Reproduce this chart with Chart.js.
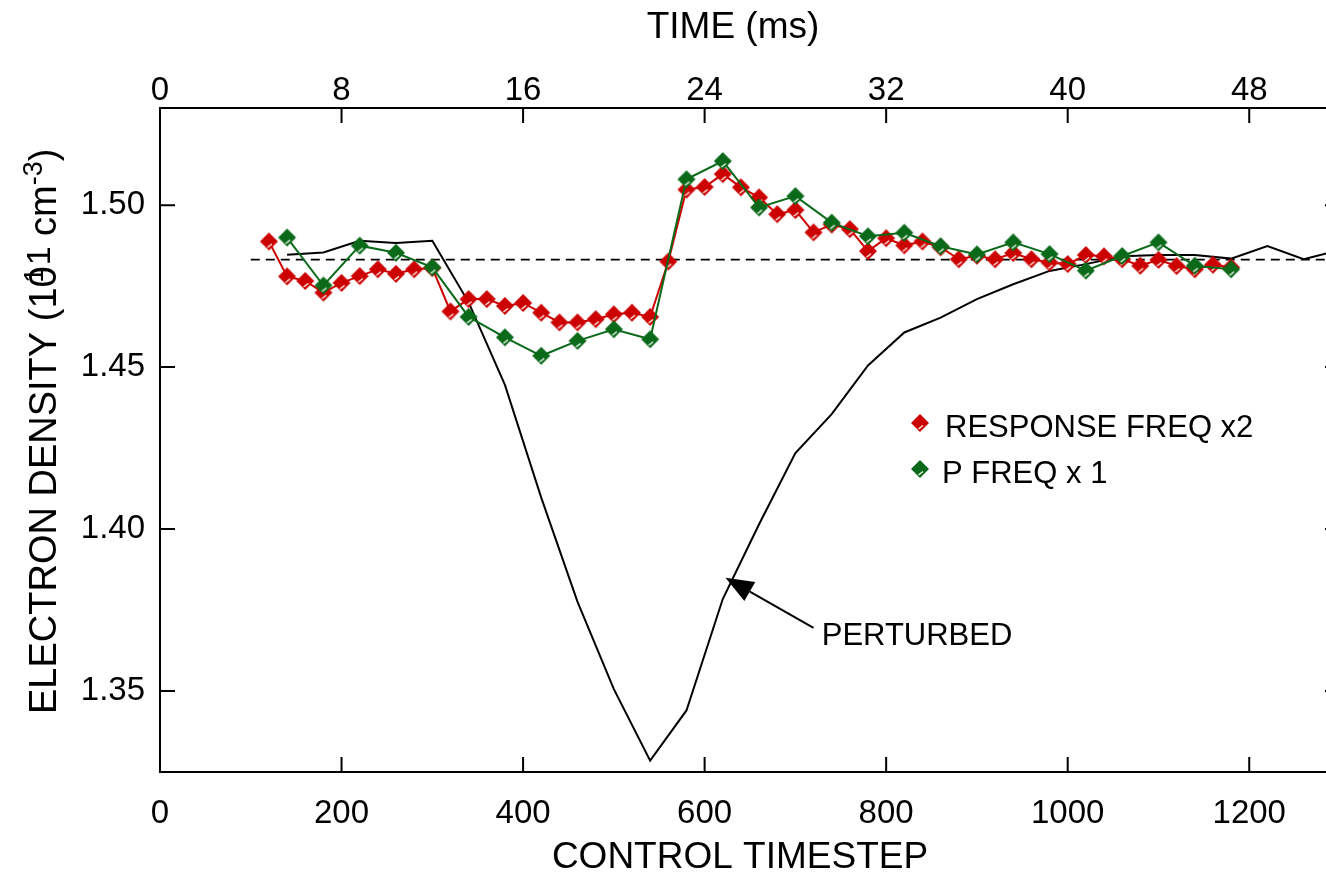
<!DOCTYPE html>
<html>
<head>
<meta charset="utf-8">
<script src="https://cdn.jsdelivr.net/npm/chart.js@4"></script>
<style>
html,body{margin:0;padding:0;background:#fff;overflow:hidden;}
#wrap{width:1326px;height:880px;overflow:hidden;position:relative;background:#fff;}
canvas{display:block;}
</style>
</head>
<body>
<div id="wrap"><canvas id="c" width="1360" height="880"></canvas></div>
<script>
// ---------------- data ----------------
const responseSteps = [120,140,160,180,200,220,240,260,280,300,320,340,360,380,400,420,440,460,480,500,520,540,560,580,600,620,640,660,680,700,720,740,760,780,800,820,840,860,880,900,920,940,960,980,1000,1020,1040,1060,1080,1100,1120,1140,1160,1180];
const responseValues = [1.4888,1.4780,1.4766,1.4730,1.4760,1.4781,1.4802,1.4788,1.4802,1.4806,1.4672,1.4710,1.4710,1.4689,1.4698,1.4668,1.4638,1.4638,1.4648,1.4663,1.4668,1.4655,1.4826,1.5048,1.5056,1.5096,1.5055,1.5024,1.4972,1.4985,1.4916,1.4940,1.4926,1.4858,1.4898,1.4876,1.4888,1.4870,1.4833,1.4844,1.4833,1.4852,1.4833,1.4823,1.4818,1.4846,1.4842,1.4833,1.4813,1.4831,1.4812,1.4802,1.4816,1.4808];

const pSteps = [140,180,220,260,300,340,380,420,460,500,540,580,620,660,700,740,780,820,860,900,940,980,1020,1060,1100,1140,1180];
const pValues = [1.4900,1.4752,1.4875,1.4853,1.4808,1.4655,1.4592,1.4535,1.4581,1.4617,1.4586,1.5080,1.5136,1.4993,1.5028,1.4946,1.4904,1.4915,1.4873,1.4848,1.4885,1.4849,1.4798,1.4843,1.4885,1.4813,1.4802];

const perturbedSteps = [140,180,220,260,300,340,380,420,460,500,540,580,620,660,700,740,780,820,860,900,940,980,1020,1060,1100,1140,1180,1220,1260,1300];
const perturbedValues = [1.4847,1.4854,1.4890,1.4883,1.4890,1.4700,1.4445,1.4097,1.3775,1.3506,1.3285,1.3440,1.3784,1.4015,1.4235,1.4355,1.4505,1.4607,1.4653,1.4710,1.4756,1.4797,1.4818,1.4842,1.4846,1.4846,1.4835,1.4874,1.4833,1.4862];

const referenceSteps = [100,1300];
const referenceValues = [1.4832,1.4832];

const stepTicks = [0,200,400,600,800,1000,1200];
const timeTicks = [0,8,16,24,32,40,48];
const densityTicks = [1.35,1.40,1.45,1.50];

const seriesNames = ['RESPONSE FREQ x2','P FREQ x 1','PERTURBED'];
const arrowTip = [623, 1.3850];
const arrowTail = [720, 1.3695];
const labelAnchor = [729, 1.3642];

// ---------------- styles ----------------
const FONT = '"Liberation Sans", Arial, Helvetica, sans-serif';
const RED = '#cc0000';
const GREEN = '#0a6a1a';
const TICK = 15;

function makeMarker(fill){
  const c = document.createElement('canvas');
  c.width = 22; c.height = 22;
  const g = c.getContext('2d');
  const m = 11, r = 9;
  g.beginPath();
  g.moveTo(m, m - r); g.lineTo(m + r, m); g.lineTo(m, m + r); g.lineTo(m - r, m); g.closePath();
  g.fillStyle = fill; g.fill();
  g.strokeStyle = '#ffffff'; g.lineWidth = 1.2;
  g.beginPath(); g.moveTo(m - 1.5, m + 6); g.lineTo(m + 3, m + 2.5); g.stroke();
  return c;
}
const redMarker = makeMarker(RED);
const greenMarker = makeMarker(GREEN);

function pts(xs, ys){ return xs.map((x, i) => ({x: x, y: ys[i]})); }

const framePlugin = {
  id: 'frame',
  afterDraw(chart){
    const {ctx, chartArea: a, scales} = chart;
    const sx = scales.x, st = scales.xTop, sy = scales.y;
    ctx.save();
    ctx.strokeStyle = '#000'; ctx.lineWidth = 2;
    ctx.beginPath();
    ctx.moveTo(a.right, a.top); ctx.lineTo(a.right, a.bottom);
    sx.ticks.forEach(t => { const p = sx.getPixelForValue(t.value); if (p > a.left + 2 && p < a.right - 2){ ctx.moveTo(p, a.bottom); ctx.lineTo(p, a.bottom - TICK); } });
    st.ticks.forEach(t => { const p = st.getPixelForValue(t.value); if (p > a.left + 2 && p < a.right - 2){ ctx.moveTo(p, a.top); ctx.lineTo(p, a.top + TICK); } });
    sy.ticks.forEach(t => { const p = sy.getPixelForValue(t.value); ctx.moveTo(a.left, p); ctx.lineTo(a.left + TICK, p); ctx.moveTo(a.right, p); ctx.lineTo(a.right - TICK, p); });
    ctx.stroke();

    // axis titles
    ctx.fillStyle = '#000';
    ctx.textBaseline = 'alphabetic';
    ctx.textAlign = 'center';
    ctx.font = '37px ' + FONT;
    ctx.fillText('TIME (ms)', 733, 38);
    ctx.fillText('CONTROL TIMESTEP', 740, 868);

    // y title with superscripts
    ctx.save();
    ctx.translate(56, 714);
    ctx.rotate(-Math.PI / 2);
    ctx.textAlign = 'left';
    const big = '38px ' + FONT, small = '27px ' + FONT;
    let x = 0;
    ctx.font = big;
    const s1 = 'ELECTRON DENSITY (10';
    ctx.fillText(s1, x, 0); x += ctx.measureText(s1).width;
    ctx.font = small;
    const w1 = ctx.measureText('1').width;
    ctx.fillText('1', x - w1 * 1.1, -13);
    ctx.font = '34px ' + FONT;
    ctx.fillText('1', x + 1, -6); x += ctx.measureText('1').width + 1;
    ctx.font = big;
    ctx.fillText(' cm', x, 0); x += ctx.measureText(' cm').width;
    ctx.font = small;
    ctx.fillText('-3', x, -14); x += ctx.measureText('-3').width;
    ctx.font = big;
    ctx.fillText(')', x, 0);
    ctx.restore();

    // legend
    ctx.font = '31px ' + FONT;
    ctx.textAlign = 'left';
    ctx.drawImage(redMarker, 920 - 11, 423 - 11);
    ctx.fillText(seriesNames[0], 945, 437);
    ctx.drawImage(greenMarker, 920 - 11, 469 - 11);
    ctx.fillText(seriesNames[1], 942, 483);

    // annotation arrow
    const tip = {x: sx.getPixelForValue(arrowTip[0]), y: sy.getPixelForValue(arrowTip[1])};
    const tail = {x: sx.getPixelForValue(arrowTail[0]), y: sy.getPixelForValue(arrowTail[1])};
    const ang = Math.atan2(tip.y - tail.y, tip.x - tail.x);
    const L = 28, H = 11;
    const bx = tip.x - L * Math.cos(ang), by = tip.y - L * Math.sin(ang);
    ctx.lineWidth = 2;
    ctx.beginPath(); ctx.moveTo(tail.x, tail.y); ctx.lineTo(bx, by); ctx.stroke();
    ctx.beginPath();
    ctx.moveTo(tip.x, tip.y);
    ctx.lineTo(bx + H * Math.sin(ang), by - H * Math.cos(ang));
    ctx.lineTo(bx - H * Math.sin(ang), by + H * Math.cos(ang));
    ctx.closePath(); ctx.fill();
    ctx.fillText(seriesNames[2], sx.getPixelForValue(labelAnchor[0]), sy.getPixelForValue(labelAnchor[1]));
    ctx.restore();
  }
};

const tickFont = {family: FONT, size: 33, lineHeight: 1};

new Chart(document.getElementById('c'), {
  type: 'line',
  data: {
    datasets: [
      {label: seriesNames[1], data: pts(pSteps, pValues), borderColor: GREEN, backgroundColor: GREEN, borderWidth: 2, pointStyle: greenMarker, pointRadius: 9, order: 0},
      {label: seriesNames[0], data: pts(responseSteps, responseValues), borderColor: RED, backgroundColor: RED, borderWidth: 2, pointStyle: redMarker, pointRadius: 9, order: 1},
      {label: seriesNames[2], data: pts(perturbedSteps, perturbedValues), borderColor: '#000', borderWidth: 2, pointRadius: 0, order: 2},
      {label: 'reference', data: pts(referenceSteps, referenceValues), borderColor: '#000', borderWidth: 1.6, borderDash: [9, 6], pointRadius: 0, order: 3}
    ]
  },
  options: {
    responsive: false,
    animation: false,
    devicePixelRatio: 1,
    layout: {padding: {left: 0, right: 20, top: 0, bottom: 0}},
    plugins: {legend: {display: false}, tooltip: {enabled: false}},
    elements: {line: {tension: 0}},
    scales: {
      x: {
        type: 'linear', position: 'bottom', min: 0, max: 1300,
        grid: {display: false, drawTicks: false},
        border: {display: true, color: '#000', width: 2},
        ticks: {font: tickFont, color: '#000', padding: 25, maxRotation: 0, autoSkip: false, callback: v => String(v)},
        afterBuildTicks: s => { s.ticks = stepTicks.map(v => ({value: v})); },
        afterFit: s => { s.height = 108; }
      },
      xTop: {
        type: 'linear', position: 'top', min: 0, max: 52,
        grid: {display: false, drawTicks: false},
        border: {display: true, color: '#000', width: 2},
        ticks: {font: tickFont, color: '#000', padding: 1, maxRotation: 0, autoSkip: false, callback: v => String(v)},
        afterBuildTicks: s => { s.ticks = timeTicks.map(v => ({value: v})); },
        afterFit: s => { s.height = 108; }
      },
      y: {
        type: 'linear', position: 'left', min: 1.325, max: 1.53,
        grid: {display: false, drawTicks: false},
        border: {display: true, color: '#000', width: 2},
        ticks: {font: tickFont, color: '#000', padding: 15, autoSkip: false, callback: v => Number(v).toFixed(2)},
        afterBuildTicks: s => { s.ticks = densityTicks.map(v => ({value: v})); },
        afterFit: s => { s.width = 160; }
      }
    }
  },
  plugins: [framePlugin]
});
</script>
</body>
</html>
